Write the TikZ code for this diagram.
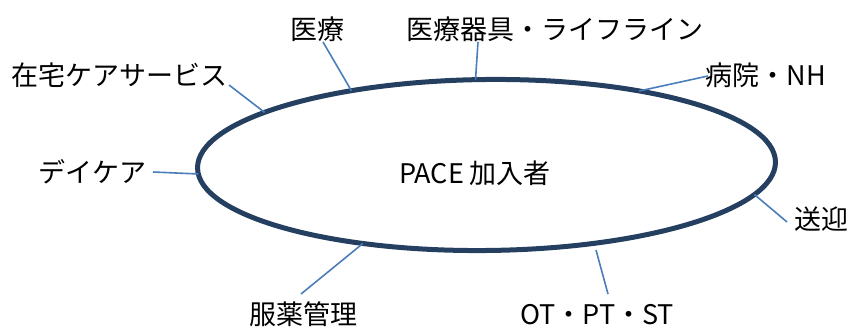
\documentclass[tikz,border=0pt]{standalone}
\usepackage{fontspec}
\setmainfont{Noto Sans CJK JP}
\usetikzlibrary{calc}
\definecolor{ringcol}{HTML}{243F60}
\definecolor{linkcol}{HTML}{4A7EBB}
\tikzset{
  lbl/.style={inner sep=0pt, anchor=base, font=\fontsize{27}{30}\selectfont},
  ring/.style={draw=ringcol, line width=5pt},
  link/.style={draw=linkcol, line width=1.6pt}
}
\begin{document}
\begin{tikzpicture}[x=1pt,y=1pt]
\useasboundingbox (0,0) rectangle (851,329);
\begin{scope}[shift={(486.5,164)}, rotate=0.6]
  \draw[ring] (0,0) ellipse [x radius=289, y radius=85.5];
  \coordinate (eIryo) at (117.7:289 and 85.5);
  \coordinate (eZaitaku) at (140:289 and 85.5);
  \coordinate (eKigu) at (92:289 and 85.5);
  \coordinate (eByoin) at (57.9:289 and 85.5);
  \coordinate (eDay) at (184:289 and 85.5);
  \coordinate (eFuku) at (244.5:289 and 85.5);
  \coordinate (eSogei) at (337.8:289 and 85.5);
\end{scope}
\coordinate (eOT) at (596,79);

\node[lbl] (pace) at (475,145) {PACE 加入者};
\node[lbl] (iryo) at (317.5,289) {医療};
\node[lbl] (zaitaku) at (120,243) {在宅ケアサービス};
\node[lbl] (kigu) at (555,289) {医療器具・ライフライン};
\node[lbl] (byoin) at (766,243) {病院・NH};
\node[lbl] (day) at (92,146) {デイケア};
\node[lbl] (fuku) at (303,4) {服薬管理};
\node[lbl] (sogei) at (821,99) {送迎};
\node[lbl] (ot) at (597,4) {OT・PT・ST};

\coordinate (tIryo) at (323,287);
\coordinate (tZaitaku) at (229,244);
\coordinate (tKigu) at (478,287);
\coordinate (tByoin) at (708,253);
\coordinate (tDay) at (153,157);
\coordinate (tFuku) at (301,35);
\coordinate (tSogei) at (787,107);
\coordinate (tOT) at (608,35);

\draw[link] (tIryo) -- (eIryo);
\draw[link] (tZaitaku) -- (eZaitaku);
\draw[link] (tKigu) -- (eKigu);
\draw[link] (tByoin) -- (eByoin);
\draw[link] (tDay) -- (eDay);
\draw[link] (tFuku) -- (eFuku);
\draw[link] (tSogei) -- (eSogei);
\draw[link] (tOT) -- (eOT);
\end{tikzpicture}
\end{document}
